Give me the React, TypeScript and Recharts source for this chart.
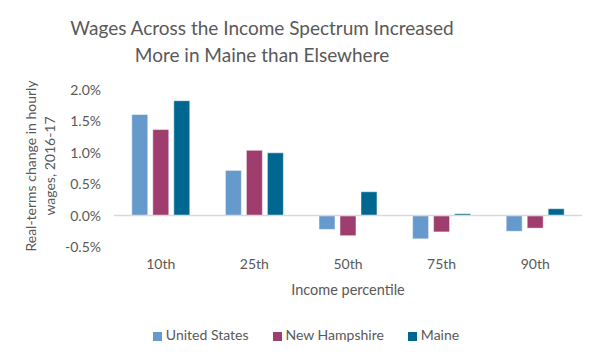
import { BarChart, Bar, XAxis, YAxis, Legend, ReferenceLine } from 'recharts';

const percentiles = ['10th', '25th', '50th', '75th', '90th'];
const unitedStates = [1.61, 0.72, -0.22, -0.37, -0.25];
const newHampshire = [1.37, 1.04, -0.32, -0.26, -0.2];
const maine = [1.83, 1.0, 0.38, 0.03, 0.11];
const yTicks = [-0.5, 0, 0.5, 1.0, 1.5, 2.0];
const seriesOrder = ['us', 'nh', 'me'];

const data = percentiles.map((p, i) => ({
  percentile: p,
  us: unitedStates[i],
  nh: newHampshire[i],
  me: maine[i],
}));

const FONT = 'Lato, "Open Sans", sans-serif';
const GREY = '#595959';

const YLabel = () => (
  <text
    transform="translate(40, 166) rotate(-90)"
    textAnchor="middle"
    fill={GREY}
    fontSize={14}
    fontFamily={FONT}
  >
    <tspan x={0} dy={-4}>Real-terms change in hourly</tspan>
    <tspan x={0} dy={19}>wages, 2016-17</tspan>
  </text>
);

export default function App() {
  return (
    <div style={{ position: 'fixed', left: 0, top: 0, width: 600, height: 360, background: '#fff', fontFamily: FONT }}>
      <div
        style={{
          position: 'absolute',
          top: 14,
          left: 0,
          width: 524,
          textAlign: 'center',
          color: GREY,
          fontSize: 19,
          lineHeight: '27px',
        }}
      >
        Wages Across the Income Spectrum Increased
        <br />
        More in Maine than Elsewhere
      </div>
      <BarChart
        width={600}
        height={360}
        data={data}
        margin={{ top: 90, right: 18, bottom: 14, left: 54 }}
        barCategoryGap="19%"
        barGap={5}
        style={{ position: 'absolute', left: 0, top: 0 }}
      >
        <XAxis
          dataKey="percentile"
          axisLine={false}
          tickLine={false}
          tickMargin={6}
          height={79}
          tick={{ fill: GREY, fontSize: 14, fontFamily: FONT }}
          label={{ value: 'Income percentile', position: 'insideTop', offset: 38, fill: GREY, fontSize: 14.5, fontFamily: FONT }}
        />
        <YAxis
          width={60}
          domain={[-0.5, 2.0]}
          ticks={yTicks}
          axisLine={false}
          tickLine={false}
          tickMargin={7}
          tickFormatter={(v: number) => `${v.toFixed(1)}%`}
          tick={{ fill: GREY, fontSize: 14, fontFamily: FONT }}
          label={{ content: <YLabel /> }}
        />
        <ReferenceLine y={0} stroke="#d9d9d9" strokeWidth={1.5} />
        <Legend
          verticalAlign="bottom"
          align="center"
          height={20}
          iconType="square"
          iconSize={9}
          itemSorter={(item: { dataKey?: string }) => seriesOrder.indexOf(String(item.dataKey))}
          wrapperStyle={{ fontSize: 14, fontFamily: FONT, color: GREY, paddingLeft: 0 }}
          formatter={(value: string) => <span style={{ color: GREY, marginRight: 14 }}>{value}</span>}
        />
        <Bar dataKey="us" name="United States" fill="#6699cc" stroke="#fff" strokeWidth={0.5} isAnimationActive={false} />
        <Bar dataKey="nh" name="New Hampshire" fill="#9e3d6e" stroke="#fff" strokeWidth={0.5} isAnimationActive={false} />
        <Bar dataKey="me" name="Maine" fill="#006890" stroke="#fff" strokeWidth={0.5} isAnimationActive={false} />
      </BarChart>
    </div>
  );
}
